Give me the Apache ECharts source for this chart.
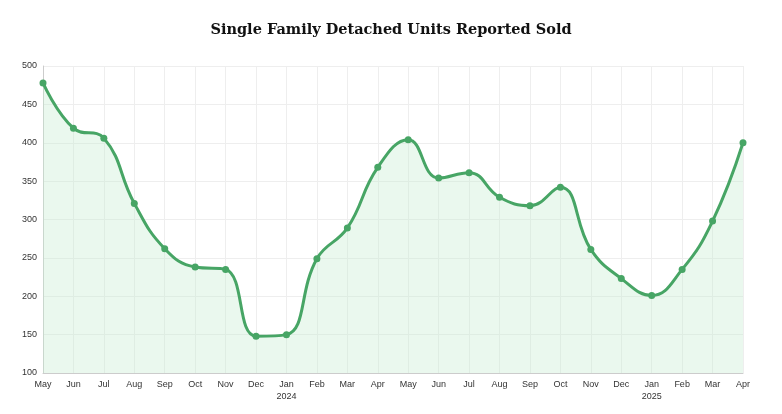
<!DOCTYPE html>
<html lang="en">
<head>
    <meta charset="UTF-8">
    <title>Single Family Detached Units Reported Sold</title>
    <script src="https://cdn.jsdelivr.net/npm/echarts@6/dist/echarts.min.js"></script>
    <style type="text/css">
        *{ padding: 0; margin: 0; border: 0; }
        #chart{ width: 782px; height: 414px; }
    </style>
</head>
<body>
<div id="chart"></div>
<script>
    // 月份标签
    var months = ['May', 'Jun', 'Jul', 'Aug', 'Sep', 'Oct', 'Nov', 'Dec', 'Jan\n2024', 'Feb', 'Mar', 'Apr',
                  'May', 'Jun', 'Jul', 'Aug', 'Sep', 'Oct', 'Nov', 'Dec', 'Jan\n2025', 'Feb', 'Mar', 'Apr'];
    // 售出数量
    var unitsSold = [478, 419, 406, 321, 262, 238, 235, 148, 150, 249, 289, 368,
                     404, 354, 361, 329, 318, 342, 261, 223, 201, 235, 298, 400];

    var chart = echarts.init(document.getElementById('chart'));
    chart.setOption({
        title: {
            text: 'Single Family Detached Units Reported Sold',
            left: 'center',
            top: 18,
            textStyle: { fontFamily: 'DejaVu Serif', fontWeight: 'bold', fontSize: 14.5, color: '#111' }
        },
        grid: { left: 43, right: 39, top: 66, bottom: 41 },
        xAxis: {
            type: 'category',
            boundaryGap: false,
            data: months,
            axisLine: { lineStyle: { color: '#ccc' } },
            axisTick: { show: false },
            splitLine: { show: true, lineStyle: { color: '#eee' } },
            axisLabel: { color: '#333', fontSize: 9, fontFamily: 'Liberation Sans', margin: 6, lineHeight: 12 }
        },
        yAxis: {
            type: 'value',
            min: 100,
            max: 500,
            interval: 50,
            axisLine: { show: true, lineStyle: { color: '#ccc' } },
            splitLine: { lineStyle: { color: '#eee' } },
            axisLabel: { color: '#333', fontSize: 9, fontFamily: 'Liberation Sans', margin: 6 }
        },
        series: [{
            type: 'line',
            data: unitsSold,
            smooth: 0.45,
            symbol: 'circle',
            symbolSize: 7,
            lineStyle: { color: '#47a565', width: 3 },
            itemStyle: { color: '#47a565' },
            areaStyle: { color: 'rgba(196,236,206,0.5)' }
        }]
    });
</script>
</body>
</html>
